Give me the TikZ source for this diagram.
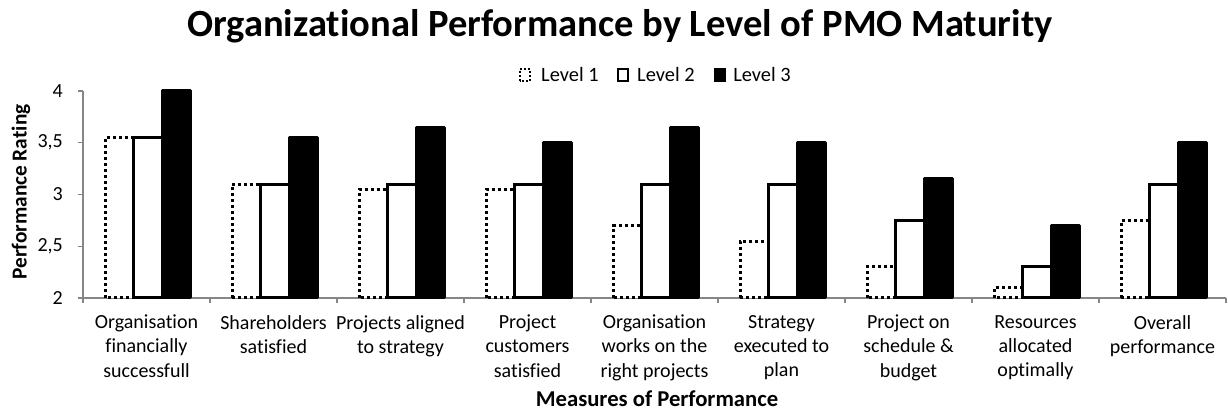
\documentclass[tikz,border=0pt]{standalone}
\usepackage{fontspec}
\setmainfont{Carlito}[Ligatures=NoCommon]
\definecolor{axisgray}{RGB}{134,134,134}
\tikzset{
  level1/.style={black, line width=2.25pt, dash pattern=on 2.25pt off 2.25pt, fill=white},
  level2/.style={black, line width=2.25pt, fill=white},
  level3/.style={black, line width=2.25pt, fill=black, line join=round},
  catlabel/.style={font=\fontsize{15}{18}\selectfont, align=center, anchor=north, inner sep=0pt},
  ticklabel/.style={font=\fontsize{15}{18}\selectfont, anchor=east, inner sep=0pt},
  legendtext/.style={font=\fontsize{15.3}{18}\selectfont, anchor=base west, inner sep=0pt}
}
\begin{document}
\begin{tikzpicture}[x=95.25pt, y=77.625pt]
\useasboundingbox (-0.6535,0.8792) rectangle (9.0157,4.8792);

% axes
\draw[axisgray, line width=1pt] (0,4) -- (0,2) -- (9,2);
\foreach \v/\t in {2/2, 2.5/{2,5}, 3/3, 3.5/{3,5}, 4/4} {
  \draw[axisgray, line width=1pt] (-0.04,\v) -- (0,\v);
  \node[ticklabel] (tick\v) at (-0.157,\v) {\t};
}
\foreach \c in {0,...,9}
  \draw[axisgray, line width=1pt] (\c,2) -- (\c,1.952);

% bars
\foreach \c/\a/\b/\d in {0/3.55/3.55/4, 1/3.1/3.1/3.55, 2/3.05/3.1/3.65,
    3/3.05/3.1/3.5, 4/2.7/3.1/3.65, 5/2.55/3.1/3.5, 6/2.3/2.75/3.15,
    7/2.1/2.3/2.7, 8/2.75/3.1/3.5} {
  \draw[level1] (\c+0.175,2) rectangle (\c+0.4,\a);
  \draw[level2] (\c+0.4,2) rectangle (\c+0.625,\b);
  \draw[level3] (\c+0.625,2) rectangle (\c+0.85,\d);
}

% category labels
\foreach \c/\t in {0/{Organisation\\financially\\successfull}, 1/{Shareholders\\satisfied},
    2/{Projects aligned\\to strategy}, 3/{Project\\customers\\satisfied},
    4/{Organisation\\works on the\\right projects}, 5/{Strategy\\executed to\\plan},
    6/{Project on\\schedule \&\\budget}, 7/{Resources\\allocated\\optimally},
    8/{Overall\\performance}}
  \node[catlabel] (cat\c) at (\c+0.5,1.836) {\t};

% titles
\node[font=\fontsize{28.9}{34}\selectfont\bfseries, anchor=base] (title) at (4.228,4.522)
  {Organizational Performance by Level of PMO Maturity};
\node[font=\fontsize{17}{20}\selectfont\bfseries, anchor=base] (xtitle) at (4.52,0.947)
  {Measures of Performance};
\node[font=\fontsize{16}{19}\selectfont\bfseries, rotate=90] (ytitle) at (-0.488,3.024)
  {Performance Rating};

% legend
\draw[black, line width=1.5pt, dash pattern=on 1.5pt off 1.5pt] (3.44,4.097) rectangle (3.52,4.2126);
\node[legendtext] (leg1) at (3.606,4.09) {Level 1};
\draw[black, line width=1.5pt] (4.213,4.097) rectangle (4.291,4.2126);
\node[legendtext] (leg2) at (4.362,4.09) {Level 2};
\draw[black, line width=1.5pt, fill=black] (4.976,4.097) rectangle (5.055,4.2126);
\node[legendtext] (leg3) at (5.118,4.09) {Level 3};
\end{tikzpicture}
\end{document}
